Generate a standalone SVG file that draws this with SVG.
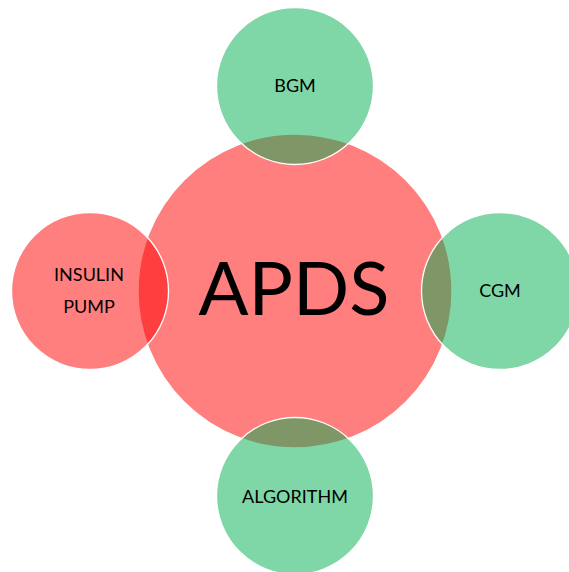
<svg xmlns="http://www.w3.org/2000/svg" width="569" height="572" viewBox="0 0 569 572">
  <style>
    .disc { stroke: #FFFFFF; stroke-width: 1.3; }
    .core { fill: #FF0000; fill-opacity: 0.5; }
    .pump { fill: #FF0000; fill-opacity: 0.5; }
    .sat { fill: #00B050; fill-opacity: 0.5; }
    .label { font-family: Lato, "Open Sans", "Liberation Sans", sans-serif; font-size: 18px; fill: #000000; text-anchor: middle; }
    .title { font-family: Lato, "Open Sans", "Liberation Sans", sans-serif; font-size: 74px; fill: #000000; text-anchor: middle; }
  </style>
  <rect width="569" height="572" fill="#FFFFFF"/>
  <g id="apds">
    <circle class="disc core" cx="295" cy="291" r="157"/>
  </g>
  <g id="bgm">
    <circle class="disc sat" cx="295" cy="86" r="78.5"/>
    <text class="label" x="295" y="92">BGM</text>
  </g>
  <g id="cgm">
    <circle class="disc sat" cx="500" cy="291" r="78.5"/>
    <text class="label" x="500" y="297">CGM</text>
  </g>
  <g id="insulin-pump">
    <circle class="disc pump" cx="90" cy="291" r="78.5"/>
    <text class="label" x="89" y="281">INSULIN</text>
    <text class="label" x="89" y="313">PUMP</text>
  </g>
  <g id="algorithm">
    <circle class="disc sat" cx="295" cy="496" r="78.5"/>
    <text class="label" x="295" y="503">ALGORITHM</text>
  </g>
  <g id="apds-label">
    <text class="title" x="294" y="315">APDS</text>
  </g>
  <g id="connectors"/>
</svg>
